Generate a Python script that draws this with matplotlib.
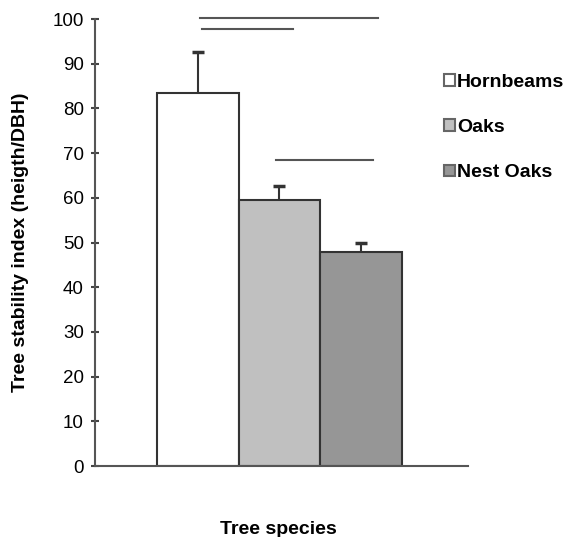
import numpy as np
import matplotlib.pyplot as plt

plt.rcParams['font.family'] = ['Liberation Sans', 'DejaVu Sans']

species = ["Hornbeams", "Oaks", "Nest Oaks"]
means = [83.5, 59.6, 47.9]
errors = [9.2, 3.0, 2.0]
colors = ["#ffffff", "#c0c0c0", "#969696"]
# significance bars: (x start, x end, y)
sig_lines = [(0.03, 2.21, 100.3), (0.05, 1.17, 97.8), (0.96, 2.14, 68.5)]

fig = plt.figure(figsize=(5.7, 5.37), dpi=100)
ax = fig.add_axes([0.1667, 0.1322, 0.6544, 0.8324])

x = np.arange(len(species))
ax.bar(x, means, width=1.0, color=colors, edgecolor="#333333", linewidth=1.5, zorder=2)
# error bars sit behind the bars so only the upper arm shows
ax.errorbar(x, means, yerr=errors, fmt="none", ecolor="#333333",
            elinewidth=1.5, capsize=4, capthick=2.5, zorder=1)

for x0, x1, y in sig_lines:
    ax.plot([x0, x1], [y, y], color="#555555", linewidth=1.5, clip_on=False, zorder=4)

ax.set_xlim(-1.26, 3.31)
ax.set_ylim(0, 100)
ax.set_yticks(range(0, 101, 10))
ax.set_xticks([])
ax.tick_params(axis="y", direction="inout", length=6, width=1.5, color="#444444",
               labelsize=13.5, pad=5)
for s in ["top", "right"]:
    ax.spines[s].set_visible(False)
for s in ["left", "bottom"]:
    ax.spines[s].set_color("#555555")
    ax.spines[s].set_linewidth(1.5)

ax.set_ylabel("Tree stability index (heigth/DBH)", fontsize=14, fontweight="bold", labelpad=17)
fig.text(0.488, 0.006, "Tree species", fontsize=14, fontweight="bold", ha="center")

handles = [plt.Rectangle((0, 0), 1, 1, facecolor=c, edgecolor="#666666", linewidth=1.5)
           for c in colors]
ax.legend(handles, species, loc="upper left", bbox_to_anchor=(0.936, 0.878),
          frameon=False, handlelength=0.55, handleheight=0.55, handletextpad=0.1,
          labelspacing=1.46, prop={"weight": "bold", "size": 14}, borderaxespad=0,
          borderpad=0)

fig.savefig("out.png", dpi=100)
